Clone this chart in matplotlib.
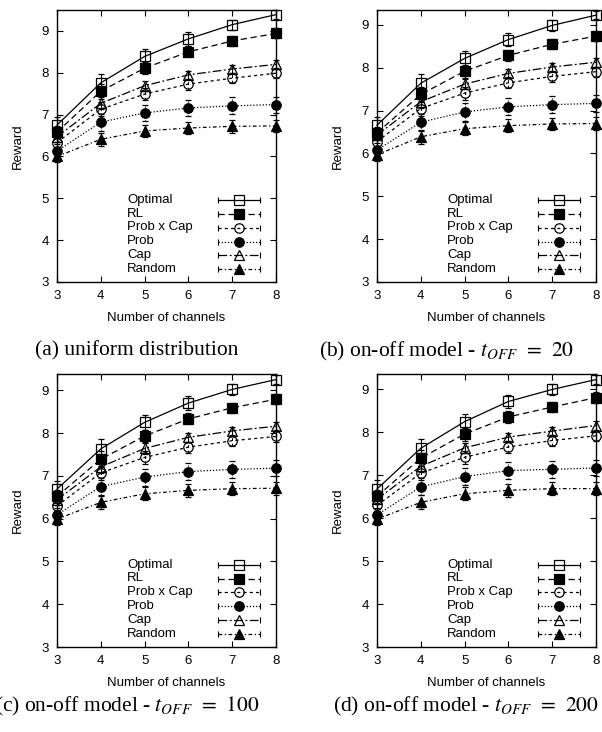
import matplotlib
matplotlib.use('Agg')
import matplotlib.pyplot as plt
from matplotlib.lines import Line2D
from matplotlib.legend_handler import HandlerLine2D

plt.rcParams['font.family'] = 'Liberation Sans'
plt.rcParams['mathtext.fontset'] = 'stix'

channels = [3, 4, 5, 6, 7, 8]
names = ['Optimal', 'RL', 'Prob x Cap', 'Prob', 'Cap', 'Random']

# (a) uniform distribution
opt_a = [6.75, 7.76, 8.39, 8.81, 9.15, 9.39]
rl_a = [6.58, 7.56, 8.11, 8.50, 8.76, 8.94]
pc_a = [6.33, 7.13, 7.49, 7.73, 7.87, 7.99]
prob_a = [6.13, 6.82, 7.04, 7.16, 7.21, 7.24]
cap_a = [6.47, 7.27, 7.69, 7.95, 8.09, 8.20]
rand_a = [6.00, 6.41, 6.61, 6.68, 6.72, 6.73]

# (b) on-off, t_OFF = 20
opt_b = [6.66, 7.64, 8.22, 8.66, 8.99, 9.23]
rl_b = [6.48, 7.38, 7.92, 8.29, 8.55, 8.74]
pc_b = [6.28, 7.05, 7.41, 7.65, 7.80, 7.91]
prob_b = [6.08, 6.73, 6.97, 7.09, 7.14, 7.17]
cap_b = [6.43, 7.21, 7.62, 7.87, 8.02, 8.13]
rand_b = [5.97, 6.39, 6.58, 6.65, 6.69, 6.70]

# (c) on-off, t_OFF = 100
opt_c = [6.69, 7.63, 8.25, 8.70, 9.02, 9.25]
rl_c = [6.52, 7.39, 7.93, 8.33, 8.59, 8.79]
pc_c = [6.30, 7.07, 7.43, 7.67, 7.82, 7.92]
prob_c = [6.09, 6.75, 6.97, 7.10, 7.15, 7.18]
cap_c = [6.44, 7.21, 7.64, 7.90, 8.05, 8.16]
rand_c = [5.99, 6.38, 6.58, 6.66, 6.70, 6.71]

# (d) on-off, t_OFF = 200
opt_d = [6.68, 7.63, 8.25, 8.72, 9.00, 9.23]
rl_d = [6.51, 7.40, 7.96, 8.36, 8.59, 8.81]
pc_d = [6.30, 7.05, 7.42, 7.66, 7.81, 7.92]
prob_d = [6.08, 6.73, 6.97, 7.11, 7.14, 7.17]
cap_d = [6.44, 7.21, 7.64, 7.89, 8.03, 8.16]
rand_d = [5.98, 6.37, 6.57, 6.65, 6.69, 6.69]

# error bar half widths (read roughly, similar in every panel)
err_opt = [0.20, 0.22, 0.17, 0.16, 0.12, 0.10]
err_rl = [0.15, 0.18, 0.15, 0.13, 0.12, 0.12]
err_pc = [0.14, 0.17, 0.15, 0.13, 0.12, 0.12]
err_prob = [0.16, 0.20, 0.20, 0.20, 0.20, 0.19]
err_cap = [0.12, 0.14, 0.12, 0.10, 0.10, 0.10]
err_rand = [0.14, 0.16, 0.15, 0.15, 0.15, 0.15]
errs = [err_opt, err_rl, err_pc, err_prob, err_cap, err_rand]

captions = ['(a) uniform distribution',
            r'(b) on-off model - $t_{OFF}\;\,=\;\,20$',
            r'(c) on-off model - $t_{OFF}\;\,=\;\,100$',
            r'(d) on-off model - $t_{OFF}\;\,=\;\,200$']

# linestyle, marker, facecolor, markersize
styles = [('-', 's', 'none', 6.8),
          ((0, (5, 3)), 's', 'k', 6.8),
          ((0, (2.5, 2.5)), 'o', 'none', 6.8),
          ((0, (1, 1.5)), 'o', 'k', 6.8),
          ((0, (7, 2, 1.5, 2)), '^', 'none', 6.8),
          ((0, (3, 2, 1, 2)), '^', 'k', 6.8)]

W, H = 602, 732
fig = plt.figure(figsize=(W / 100, H / 100), dpi=100)

# pixel boxes: left, top, right, bottom
boxes = [(57, 10, 276, 282), (377, 10, 596, 282),
         (57, 374, 276, 647), (377, 374, 596, 647)]
ytops = [9.5, 9.35, 9.38, 9.36]
panels = [[opt_a, rl_a, pc_a, prob_a, cap_a, rand_a],
          [opt_b, rl_b, pc_b, prob_b, cap_b, rand_b],
          [opt_c, rl_c, pc_c, prob_c, cap_c, rand_c],
          [opt_d, rl_d, pc_d, prob_d, cap_d, rand_d]]
cap_pos = [(35, 351), (319, 351), (-5, 706), (333, 706)]

fs = 9.5
for k in range(4):
    l, t, r, b = boxes[k]
    ax = fig.add_axes([l / W, 1 - b / H, (r - l) / W, (b - t) / H])
    for vals, err, (ls, m, fc, ms) in zip(panels[k], errs, styles):
        eb = ax.errorbar(channels, vals, yerr=err, color='k', lw=0.9, ls=ls,
                         marker=m, mfc=fc, mec='k', ms=ms, mew=0.9,
                         capsize=2.5, capthick=0.8, elinewidth=0.8)
        eb[0].set_clip_on(False)
        for c in eb[1]:
            c.set_clip_on(False)
        for c in eb[2]:
            c.set_linestyle(ls)
            c.set_clip_on(False)
    ax.set_xlim(3, 8)
    ax.set_ylim(3, ytops[k])
    ax.set_xticks(channels)
    ax.set_yticks(range(3, 10))
    ax.tick_params(direction='in', top=True, right=True, length=4, width=0.8,
                   labelsize=fs, pad=6)
    for sp in ax.spines.values():
        sp.set_linewidth(1.0)
    ax.set_xlabel('Number of channels', fontsize=fs, labelpad=7)
    ax.set_ylabel('Reward', fontsize=fs)
    ax.yaxis.set_label_coords(-0.15, 0.5)

    # legend: names on the left, samples on the right (gnuplot style)
    blank = [Line2D([], [], ls='none') for _ in names]
    leg1 = ax.legend(blank, names, loc='upper left', bbox_to_anchor=(0.32, 0.325),
                     frameon=False, handlelength=0, handletextpad=0,
                     labelspacing=0.12, borderpad=0, borderaxespad=0, fontsize=fs)
    ax.add_artist(leg1)
    handles = []
    hmap = {}
    for ls, m, fc, ms in styles:
        caps = Line2D([], [], ls='none', marker='|', color='k', ms=5, mew=0.8)
        main = Line2D([], [], ls=ls, lw=0.9, color='k', marker=m, mfc=fc,
                      mec='k', ms=ms, mew=0.9)
        hmap[caps] = HandlerLine2D(numpoints=2, marker_pad=0)
        handles.append((caps, main))
    ax.legend(handles, [''] * 6, loc='upper left', bbox_to_anchor=(0.735, 0.318),
              frameon=False, handlelength=3.2, handletextpad=0, labelspacing=0.12,
              borderpad=0, borderaxespad=0, fontsize=fs, handler_map=hmap)

    x, y = cap_pos[k]
    fig.text(x / W, 1 - y / H, captions[k], ha='left', va='center',
             family='Liberation Serif', fontsize=15.5)

fig.savefig('out.png', dpi=100)
